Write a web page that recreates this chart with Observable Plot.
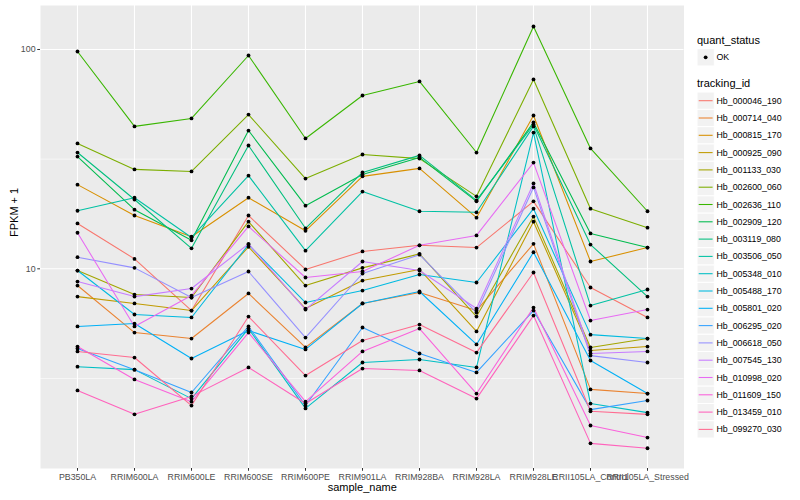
<!DOCTYPE html>
<html><head><meta charset="utf-8">
<script src="https://cdn.jsdelivr.net/npm/d3@7"></script>
<script src="https://cdn.jsdelivr.net/npm/@observablehq/plot@0.6"></script>
<style>body{margin:0;background:#fff;}</style>
</head><body><div id="chart"></div>
<script>
const samples = ["PB350LA","RRIM600LA","RRIM600LE","RRIM600SE","RRIM600PE","RRIM901LA","RRIM928BA","RRIM928LA","RRIM928LE","RRII105LA_Control","RRII105LA_Stressed"];
const trackingIds = ["Hb_000046_190","Hb_000714_040","Hb_000815_170","Hb_000925_090","Hb_001133_030","Hb_002600_060","Hb_002636_110","Hb_002909_120","Hb_003119_080","Hb_003506_050","Hb_005348_010","Hb_005488_170","Hb_005801_020","Hb_006295_020","Hb_006618_050","Hb_007545_130","Hb_010998_020","Hb_011609_150","Hb_013459_010","Hb_099270_030"];
const colors = ["#F8766D","#EA8331","#D89000","#C09B00","#A3A500","#7CAE00","#39B600","#00BB4E","#00BF7D","#00C1A3","#00BFC4","#00BAE0","#00B0F6","#35A2FF","#9590FF","#C77CFF","#E76BF3","#FA62DB","#FF62BC","#FF6C91"];

const Hb_000046_190 = [16.1, 11.1, 6.45, 17.5, 9.93, 12.0, 12.8, 12.5, 20.3, 8.22, 6.00];
const Hb_000714_040 = [8.39, 5.12, 4.81, 7.72, 4.38, 6.95, 7.80, 6.45, 13.0, 2.82, 2.70];
const Hb_000815_170 = [24.2, 17.5, 14.0, 21.1, 14.9, 26.4, 28.7, 17.1, 50.0, 10.8, 12.5];
const Hb_000925_090 = [7.47, 6.95, 6.45, 12.6, 6.59, 8.84, 9.93, 5.18, 16.4, 4.24, 4.42];
const Hb_001133_030 = [9.82, 7.63, 7.40, 16.4, 8.39, 10.1, 11.7, 6.06, 17.3, 4.38, 4.81];
const Hb_002600_060 = [37.3, 28.4, 27.8, 50.5, 25.8, 33.2, 31.8, 21.4, 73.0, 18.8, 15.4];
const Hb_002636_110 = [97.9, 44.6, 48.5, 93.9, 39.3, 61.7, 71.5, 33.9, 127.3, 35.4, 18.3];
const Hb_002909_120 = [32.5, 18.6, 13.5, 42.7, 19.4, 26.9, 32.2, 20.3, 46.5, 14.5, 12.5];
const Hb_003119_080 = [33.9, 20.7, 12.4, 36.5, 15.3, 27.5, 32.9, 20.5, 45.5, 12.9, 7.47];
const Hb_003506_050 = [18.4, 21.1, 13.9, 26.6, 12.1, 22.5, 18.3, 18.1, 44.6, 6.80, 8.05];
const Hb_005348_010 = [3.58, 3.47, 2.56, 5.34, 2.31, 3.74, 3.86, 3.55, 41.8, 2.43, 2.21];
const Hb_005488_170 = [9.82, 6.19, 6.00, 12.9, 7.02, 7.96, 9.42, 8.66, 18.8, 5.01, 4.81];
const Hb_005801_020 = [5.46, 5.63, 3.90, 5.23, 4.29, 6.95, 7.88, 4.52, 11.9, 3.82, 2.70];
const Hb_006295_020 = [4.33, 3.47, 2.73, 5.46, 2.38, 5.40, 4.11, 3.37, 6.45, 2.28, 2.51];
const Hb_006618_050 = [11.3, 10.1, 7.40, 9.72, 4.86, 9.52, 11.6, 6.32, 23.5, 4.02, 3.74];
const Hb_007545_130 = [8.75, 7.47, 8.13, 13.0, 6.52, 10.8, 9.82, 6.59, 24.5, 4.11, 4.20];
const Hb_010998_020 = [14.6, 5.46, 7.55, 15.6, 9.13, 9.72, 12.8, 14.2, 30.5, 5.81, 6.52];
const Hb_011609_150 = [4.42, 3.13, 2.48, 5.12, 2.48, 4.20, 5.34, 2.70, 6.66, 1.93, 1.70];
const Hb_013459_010 = [2.79, 2.17, 2.62, 3.55, 2.43, 3.51, 3.44, 2.56, 6.12, 1.60, 1.52];
const Hb_099270_030 = [4.20, 3.94, 2.38, 6.06, 3.26, 4.71, 5.57, 4.15, 9.62, 2.24, 2.17];

const seriesValues = [Hb_000046_190, Hb_000714_040, Hb_000815_170, Hb_000925_090, Hb_001133_030, Hb_002600_060, Hb_002636_110, Hb_002909_120, Hb_003119_080, Hb_003506_050, Hb_005348_010, Hb_005488_170, Hb_005801_020, Hb_006295_020, Hb_006618_050, Hb_007545_130, Hb_010998_020, Hb_011609_150, Hb_013459_010, Hb_099270_030];

const yTicks = [10, 100];
const yMinor = [Math.sqrt(10), Math.sqrt(1000)];
const quantStatus = ["OK"];

const data = trackingIds.flatMap((id, i) => seriesValues[i].map((v, j) => ({id, sample: samples[j], value: v, status: "OK"})));

const font = "'Liberation Sans', Arial, Helvetica, sans-serif";
const plot = Plot.plot({
  width: 800, height: 500,
  marginLeft: 40, marginRight: 116.5, marginTop: 5, marginBottom: 32,
  style: {fontFamily: font, fontSize: "8.8px", background: "white", color: "#4D4D4D"},
  x: {type: "point", domain: samples, padding: 0.6, label: null},
  y: {type: "log", domain: [1.229, 158.7], label: null},
  color: {domain: trackingIds, range: colors},
  marks: [
    Plot.frame({fill: "#EBEBEB", stroke: "none"}),
    Plot.ruleY(yMinor, {stroke: "white", strokeWidth: 0.55}),
    Plot.ruleY(yTicks, {stroke: "white", strokeWidth: 1.1}),
    Plot.ruleX(samples, {stroke: "white", strokeWidth: 1.1}),
    Plot.line(data, {x: "sample", y: "value", z: "id", stroke: "id", strokeWidth: 1.07}),
    Plot.dot(data, {x: "sample", y: "value", fill: "black", r: 1.9}),
    Plot.axisX({tickSize: 2.75, tickPadding: 2.2, stroke: "#333333", fill: "#4D4D4D", label: null}),
    Plot.axisY({ticks: yTicks, tickFormat: d => String(d), tickSize: 2.75, tickPadding: 2.2, stroke: "#333333", fill: "#4D4D4D", label: null}),
    Plot.text(["sample_name"], {frameAnchor: "bottom", dy: 22, text: d => d, fontSize: 11, fill: "black"}),
    Plot.text(["FPKM + 1"], {frameAnchor: "left", dx: -26, rotate: -90, text: d => d, fontSize: 11, fill: "black"})
  ]
});
document.getElementById("chart").appendChild(plot);

// legend (right side), built from the same arrays
const svg = d3.select(plot);
const lg = svg.append("g").attr("font-family", font).attr("text-anchor", "start");
const lx = 697, key = 17.3;
lg.append("text").attr("x", lx).attr("y", 43.5).attr("font-size", 11).attr("fill", "black").text("quant_status");
quantStatus.forEach((s, i) => {
  const cy = 57.3 + i * key;
  lg.append("rect").attr("x", lx).attr("y", cy - key / 2).attr("width", key).attr("height", key).attr("fill", "#F2F2F2").attr("stroke", "white");
  lg.append("circle").attr("cx", lx + key / 2).attr("cy", cy).attr("r", 1.9).attr("fill", "black");
  lg.append("text").attr("x", 716.5).attr("y", cy).attr("dy", "0.35em").attr("font-size", 8.8).attr("fill", "black").text(s);
});
lg.append("text").attr("x", lx).attr("y", 87).attr("font-size", 11).attr("fill", "black").text("tracking_id");
trackingIds.forEach((id, i) => {
  const cy = 100.7 + i * key;
  lg.append("rect").attr("x", lx).attr("y", cy - key / 2).attr("width", key).attr("height", key).attr("fill", "#F2F2F2").attr("stroke", "white");
  lg.append("line").attr("x1", lx + 1.7).attr("x2", lx + key - 1.7).attr("y1", cy).attr("y2", cy).attr("stroke", colors[i]).attr("stroke-width", 1.07);
  lg.append("text").attr("x", 716.5).attr("y", cy).attr("dy", "0.35em").attr("font-size", 8.8).attr("fill", "black").text(id);
});
</script>
</body></html>
